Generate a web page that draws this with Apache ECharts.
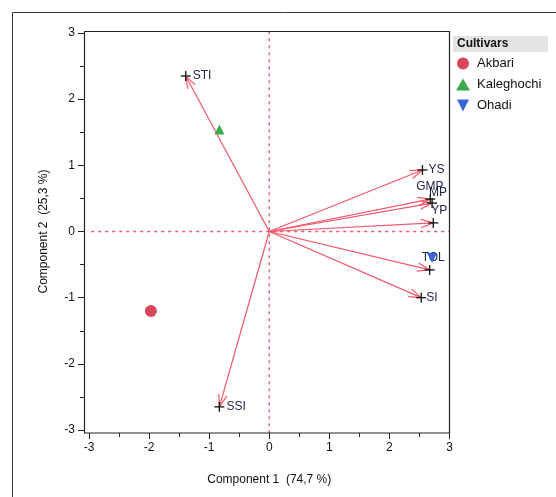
<!DOCTYPE html>
<html>
<head>
<meta charset="utf-8">
<script src="https://cdn.jsdelivr.net/npm/echarts@6/dist/echarts.min.js"></script>
<style>
html,body{margin:0;padding:0;background:#fff;}
#c{width:556px;height:497px;}
</style>
</head>
<body>
<div id="c"></div>
<script>
// Cultivar scores
var cultivars = ['Akbari', 'Kaleghochi', 'Ohadi'];
var cultivarX = [-1.97, -0.83, 2.71];
var cultivarY = [-1.20, 1.54, -0.40];

// Variable loadings (biplot vectors)
var varNames = ['STI', 'SSI', 'YS', 'GMP', 'MP', 'YP', 'TOL', 'SI'];
var varX = [-1.39, -0.83, 2.55, 2.68, 2.71, 2.73, 2.67, 2.53];
var varY = [2.35, -2.65, 0.93, 0.49, 0.43, 0.13, -0.58, -1.00];

// Axis ticks
var axisTicks = [-3, -2, -1, 0, 1, 2, 3];

var colors = ['#d8465a', '#3aab49', '#3866d8'];
var symbols = ['circle', 'triangle', 'path://M0,0 L10,0 L5,10 Z'];
var red = '#f2566c';
// label nudges (pixels) to avoid overlaps, as in the reference
var labelNudge = {
  STI: [7, 0], SSI: [7, 0], YS: [6, 0], GMP: [-14, -12], MP: [-3, -10],
  YP: [-2, -12], TOL: [-8, -12], SI: [5, 0]
};

var chart = echarts.init(document.getElementById('c'), null, {renderer: 'canvas'});

var vecData = varNames.map(function (n, i) { return [varX[i], varY[i], n]; });
var lo = axisTicks[0], hi = axisTicks[axisTicks.length - 1];

var series = [];
// zero reference lines
series.push({
  type: 'line', data: [[0, lo - 0.05], [0, hi + 0.05]], symbol: 'none', silent: true, z: 1,
  lineStyle: {color: red, type: [3, 4], width: 1.3}, clip: false
});
series.push({
  type: 'line', data: [[lo - 0.08, 0], [hi, 0]], symbol: 'none', silent: true, z: 1,
  lineStyle: {color: red, type: [3, 4], width: 1.3}, clip: false
});

series.push({
  type: 'custom',
  name: 'vectors',
  coordinateSystem: 'cartesian2d',
  data: vecData,
  encode: {x: 0, y: 1},
  z: 3,
  renderItem: function (params, api) {
    var o = api.coord([0, 0]);
    var e = api.coord([api.value(0), api.value(1)]);
    var name = vecData[params.dataIndex][2];
    var ang = Math.atan2(e[1] - o[1], e[0] - o[0]);
    var L = 13, phi = 0.33;
    var w1 = [e[0] - L * Math.cos(ang - phi), e[1] - L * Math.sin(ang - phi)];
    var w2 = [e[0] - L * Math.cos(ang + phi), e[1] - L * Math.sin(ang + phi)];
    var nd = labelNudge[name] || [6, 0];
    return {
      type: 'group',
      children: [
        {type: 'line', shape: {x1: o[0], y1: o[1], x2: e[0], y2: e[1]}, style: {stroke: red, lineWidth: 1.2}},
        {type: 'polyline', shape: {points: [w1, e, w2]}, style: {stroke: red, lineWidth: 1.2, fill: null}},
        {type: 'line', shape: {x1: e[0] - 5, y1: e[1], x2: e[0] + 5, y2: e[1]}, style: {stroke: '#111', lineWidth: 1.3}},
        {type: 'line', shape: {x1: e[0], y1: e[1] - 5, x2: e[0], y2: e[1] + 5}, style: {stroke: '#111', lineWidth: 1.3}},
        {type: 'text', x: e[0] + nd[0], y: e[1] + nd[1], style: {
          text: name, fill: '#22264a', font: '12px "Liberation Sans", Arial, sans-serif',
          align: 'left', verticalAlign: 'middle'}}
      ]
    };
  }
});

cultivars.forEach(function (c, i) {
  series.push({
    type: 'scatter',
    name: c,
    data: [[cultivarX[i], cultivarY[i]]],
    symbol: symbols[i],
    symbolSize: i === 0 ? 12 : 10,
    itemStyle: {color: colors[i], opacity: 1},
    z: 4
  });
});

var axisFont = {color: '#111', fontSize: 12, fontFamily: '"Liberation Sans", Arial, sans-serif'};

chart.setOption({
  animation: false,
  backgroundColor: '#fff',
  grid: {left: 89, right: 106.5, top: 33, bottom: 67},
  xAxis: {
    type: 'value', min: lo, max: hi, interval: 1,
    offset: 3,
    axisLine: {show: false, onZero: false},
    axisTick: {show: true, length: 6, lineStyle: {color: '#222'}},
    minorTick: {show: true, splitNumber: 2, length: 4, lineStyle: {color: '#222'}},
    splitLine: {show: false},
    axisLabel: Object.assign({margin: 9}, axisFont),
    name: 'Component 1  (74,7 %)',
    nameLocation: 'middle',
    nameGap: 41,
    nameTextStyle: axisFont
  },
  yAxis: {
    type: 'value', min: lo, max: hi, interval: 1,
    offset: 5,
    axisLine: {show: false, onZero: false},
    axisTick: {show: true, length: 6, lineStyle: {color: '#222'}},
    minorTick: {show: true, splitNumber: 2, length: 4, lineStyle: {color: '#222'}},
    splitLine: {show: false},
    axisLabel: Object.assign({margin: 9}, axisFont),
    name: 'Component 2  (25,3 %)',
    nameLocation: 'middle',
    nameGap: 34,
    nameTextStyle: axisFont
  },
  legend: {
    data: cultivars.map(function (c, i) { return {name: c, icon: symbols[i]}; }),
    orient: 'vertical',
    left: 451, top: 52,
    itemWidth: 14, itemHeight: 12, itemGap: 8,
    selectedMode: false,
    textStyle: {color: '#111', fontSize: 13, fontFamily: '"Liberation Sans", Arial, sans-serif', padding: [0, 0, 0, 2]}
  },
  graphic: [
    {type: 'rect', shape: {x: 12.5, y: 12.5, width: 700, height: 700}, style: {fill: null, stroke: '#333', lineWidth: 1}, z: 0, silent: true},
    {type: 'rect', shape: {x: 84.5, y: 31.5, width: 365, height: 401.5}, style: {fill: null, stroke: '#222', lineWidth: 1.2}, z: 10, silent: true},
    {type: 'rect', shape: {x: 453, y: 36, width: 95, height: 16}, style: {fill: '#e4e4e4'}, z: 1, silent: true},
    {type: 'text', x: 457, y: 44, style: {text: 'Cultivars', fill: '#111', font: 'bold 12px "Liberation Sans", Arial, sans-serif', verticalAlign: 'middle'}, z: 2, silent: true}
  ],
  series: series
});
</script>
</body>
</html>
